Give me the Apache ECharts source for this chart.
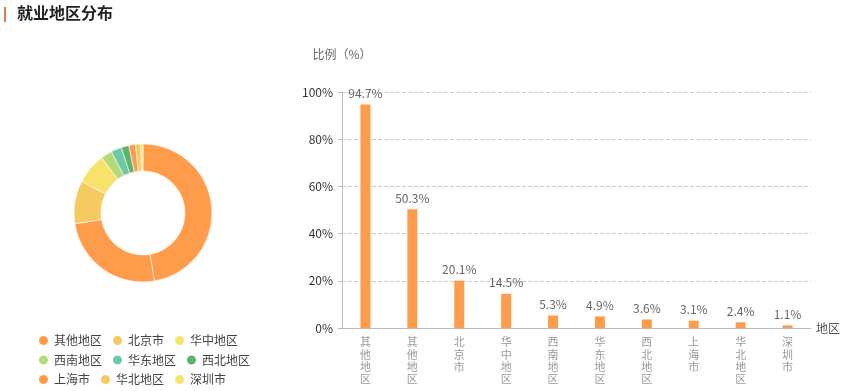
<!DOCTYPE html>
<html>
<head>
<meta charset="utf-8">
<script src="https://cdn.jsdelivr.net/npm/echarts@6/dist/echarts.min.js"></script>
<style>
html,body{margin:0;padding:0;background:#fff;}
#c{width:849px;height:391px;}
</style>
</head>
<body>
<div id="c"></div>
<script>
const categories = ['其他地区','其他地区','北京市','华中地区','西南地区','华东地区','西北地区','上海市','华北地区','深圳市'];
const values = [94.7, 50.3, 20.1, 14.5, 5.3, 4.9, 3.6, 3.1, 2.4, 1.1];
const yTicks = [0, 20, 40, 60, 80, 100];
const palette = ['#FF9C4B', '#F5CA60', '#F8E26B', '#B6DA77', '#6FC8A6', '#5EB36D'];
const legendRows = [
  ['其他地区','北京市','华中地区'],
  ['西南地区','华东地区','西北地区'],
  ['上海市','华北地区','深圳市']
];

const font = '"Noto Sans CJK SC", "Noto Sans", sans-serif';
const rowTops = [334, 353.5, 373];
const chart = echarts.init(document.getElementById('c'));
chart.setOption({
  color: palette,
  textStyle: { fontFamily: font },
  animation: false,
  graphic: [
    { type: 'rect', left: 4, top: 7, shape: { width: 2, height: 15 }, style: { fill: '#E07D3A' } },
    { type: 'text', left: 17, top: 5, style: { text: '就业地区分布', fill: '#222', font: 'bold 16px ' + font } }
  ],
  legend: legendRows.map((row, i) => ({
    data: row,
    left: 37, top: rowTops[i],
    orient: 'horizontal',
    icon: 'circle',
    itemWidth: 11, itemHeight: 11,
    itemGap: 9,
    textStyle: { color: '#444', fontSize: 12 },
    padding: 0
  })),
  grid: { left: 342, right: 38, top: 92, bottom: 63 },
  xAxis: {
    type: 'category',
    data: categories,
    name: '地区',
    nameLocation: 'end',
    nameGap: 5,
    nameTextStyle: { color: '#555', fontSize: 12 },
    axisLine: { lineStyle: { color: '#bbb' } },
    axisTick: { show: false },
    axisLabel: {
      color: '#999', fontSize: 11, interval: 0, margin: 8, lineHeight: 12.3,
      formatter: v => v.split('').join('\n')
    }
  },
  yAxis: {
    type: 'value',
    min: yTicks[0], max: yTicks[yTicks.length-1], interval: 20,
    name: '比例（%）',
    nameLocation: 'end',
    nameGap: 32,
    nameTextStyle: { color: '#666', fontSize: 12, align: 'center' },
    axisLine: { show: true, lineStyle: { color: '#bbb' } },
    axisTick: { show: true, length: 4, lineStyle: { color: '#bbb' } },
    axisLabel: { color: '#333', fontSize: 12, formatter: '{value}%', margin: 9 },
    splitLine: { lineStyle: { type: 'dashed', color: '#ccc' } }
  },
  series: [
    {
      type: 'bar',
      data: values,
      barWidth: 10,
      itemStyle: { color: '#FF9C4B' },
      label: { show: true, position: 'top', color: '#666', fontSize: 12, formatter: p => p.value + '%' }
    },
    {
      type: 'pie',
      center: [143, 213],
      radius: [42, 69],
      label: { show: false },
      labelLine: { show: false },
      itemStyle: { borderColor: '#fff', borderWidth: 0.6 },
      data: categories.map((n, i) => ({ name: n, value: values[i] }))
    }
  ]
});
</script>
</body>
</html>
